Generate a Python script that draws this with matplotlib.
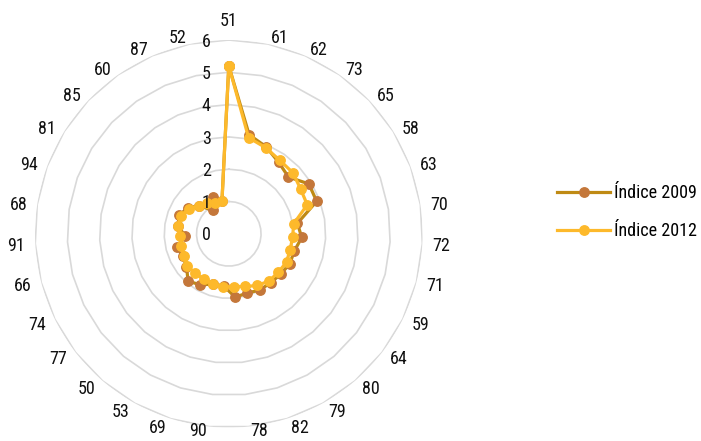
import numpy as np
import matplotlib
matplotlib.use("Agg")
import matplotlib.pyplot as plt
from matplotlib import font_manager

# ---- data ----
categories = ['51', '61', '62', '73', '65', '58', '63', '70', '72', '71', '59', '64', '80', '79',
              '82', '78', '90', '69', '53', '50', '77', '74', '66', '91', '68', '94', '81', '85',
              '60', '87', '52']
indice_2009 = [5.2, 3.13, 2.93, 2.70, 2.55, 2.92, 2.90, 2.15, 2.26, 2.10, 2.10, 2.04, 1.99, 1.99,
               1.92, 1.97, 1.62, 1.63, 1.81, 1.93, 1.66, 1.58, 1.66, 1.36, 1.58, 1.65, 1.50, 1.27,
               0.88, 1.25, 1.05]
indice_2012 = [5.2, 3.04, 2.90, 2.77, 2.74, 2.62, 2.59, 2.03, 1.98, 1.96, 1.99, 1.94, 1.92, 1.83,
               1.71, 1.64, 1.65, 1.62, 1.60, 1.61, 1.62, 1.55, 1.54, 1.51, 1.59, 1.59, 1.46, 1.26,
               1.16, 1.05, 1.05]
radial_ticks = [0, 1, 2, 3, 4, 5, 6]
series_labels = ['Índice 2009', 'Índice 2012']

# ---- font ----
fonts = font_manager.fontManager.ttflist
names = {f.name for f in fonts}
stretch = 'normal'
fam = None
for cand in ['Liberation Sans Narrow', 'Arial Narrow', 'Roboto Condensed', 'Open Sans Condensed']:
    if cand in names:
        fam = cand
        break
if fam is None:
    cond = [f for f in fonts if f.name == 'DejaVu Sans' and 'ondensed' in f.fname]
    if cond:
        fam = 'DejaVu Sans'
        stretch = 'condensed'
    else:
        fam = 'Liberation Sans'
plt.rcParams['font.family'] = [fam, 'DejaVu Sans']
plt.rcParams['font.stretch'] = stretch
FS = 13
TXT = '#111111'

W, H = 701, 441
fig = plt.figure(figsize=(W / 100, H / 100), dpi=100)
cx, cy, R = 228.8, 233.8, 193.8
ax = fig.add_axes([(cx - R) / W, (H - cy - R) / H, 2 * R / W, 2 * R / H], projection='polar')
ax.set_theta_zero_location('N')
ax.set_theta_direction(-1)
ax.set_ylim(0, 6)
ax.axis('off')

n = len(categories)
theta = np.arange(n) * 2 * np.pi / n
theta_c = np.append(theta, theta[0])

# polygon grid
for k in radial_ticks[1:]:
    ax.plot(theta_c, [k] * (n + 1), color='#D9D9D9', lw=1.2, zorder=1)

# series
v09 = np.append(indice_2009, indice_2009[0])
v12 = np.append(indice_2012, indice_2012[0])
l1, = ax.plot(theta_c, v09, color='#BF8A14', lw=2.3, marker='o', ms=6.8,
              mfc='#C4773A', mec='#C4773A', zorder=3, label=series_labels[0])
l2, = ax.plot(theta_c, v12, color='#FDB92B', lw=2.3, marker='o', ms=6.8,
              mfc='#FDB92B', mec='#FDB92B', zorder=4, label=series_labels[1])

# radial tick labels
VADJ = -1.7
for k in radial_ticks:
    ax.annotate(str(k), xy=(0, k), xytext=(-22.5, VADJ), textcoords='offset pixels',
                ha='center', va='center', fontsize=FS, color=TXT, zorder=5)

# category labels (Excel-like placement)
labels = []
for t, lab in zip(theta, categories):
    s, c = np.sin(t), np.cos(t)
    if abs(s) < 1e-6:
        off = (0, 20.3 + VADJ)
        ha = 'center'
    else:
        gx = 1 + 9 * abs(s)
        off = (gx * np.sign(s), 8.3 * c + VADJ)
        ha = 'left' if s > 0 else 'right'
    a = ax.annotate(lab, xy=(t, 6), xytext=off, textcoords='offset pixels',
                    ha=ha, va='center', fontsize=FS, color=TXT, annotation_clip=False)
    labels.append(a)

fig.legend(handles=[l1, l2], loc='center left', bbox_to_anchor=(557 / W, 1 - 212 / H),
           frameon=False, fontsize=FS, handlelength=2.95, handletextpad=0.2,
           labelspacing=1.1, borderpad=0, borderaxespad=0)

# keep label boxes inside the canvas
fig.canvas.draw()
r = fig.canvas.get_renderer()
for a in labels:
    bb = a.get_window_extent(r)
    if bb.y0 < 0.5:
        x, y = a.xyann
        a.xyann = (x, y + (0.5 - bb.y0))

fig.savefig('out.png', dpi=100)
